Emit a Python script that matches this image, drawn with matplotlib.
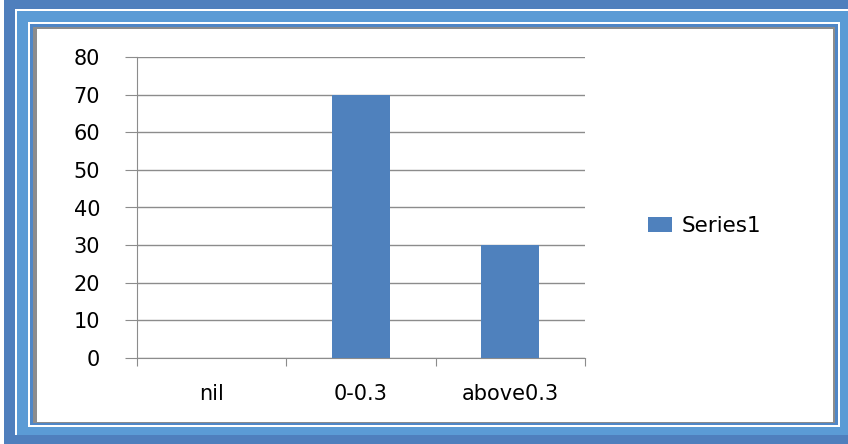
import matplotlib
matplotlib.use("Agg")
import matplotlib.pyplot as plt
from matplotlib.patches import Rectangle

# chart data
categories = ["nil", "0-0.3", "above0.3"]
values = [0, 70, 30]
series_name = "Series1"

W, H = 848, 444
fig = plt.figure(figsize=(W / 100, H / 100), dpi=100)


def frame_rect(x0, y0, x1, y1, color):
    # pixel box (top-down) -> figure rectangle
    fig.patches.append(Rectangle((x0 / W, 1 - y1 / H), (x1 - x0) / W, (y1 - y0) / H,
                                 transform=fig.transFigure, facecolor=color,
                                 edgecolor="none", zorder=-10))


# decorative frame
frame_rect(0, 0, W, H, "white")
frame_rect(4, 0, W, H, "#4f7fbd")
frame_rect(15, 9, W, 435, "white")
frame_rect(17, 11, W, 435, "#5b9bd5")
frame_rect(28, 22, 840, 427, "white")
frame_rect(30, 24, 838, 425, "#4f86c6")
frame_rect(33, 27, 835, 423, "#8c8c8c")
frame_rect(37, 29, 833, 422, "white")

ax = fig.add_axes([137 / W, 1 - 358 / H, 448 / W, 301 / H])
ax.set_facecolor("none")

x = range(len(categories))
ax.bar(x, values, width=0.39, color="#4f81bd", label=series_name, zorder=3)

ax.set_xlim(-0.5, len(categories) - 0.5)
ax.set_ylim(0, 80)
ax.set_yticks(range(0, 81, 10))
ax.yaxis.grid(True, color="#8c8c8c", linewidth=1)
ax.set_axisbelow(True)

ax.set_xticks([i - 0.5 for i in range(len(categories) + 1)], minor=False)
ax.set_xticklabels([])
ax.set_xticks(list(x), minor=True)
ax.set_xticklabels(categories, minor=True, fontsize=15)
ax.tick_params(axis="x", which="minor", length=0, pad=19)
ax.tick_params(axis="x", which="major", length=6, direction="out", color="#8c8c8c")
ax.tick_params(axis="y", length=8.6, color="#8c8c8c", labelsize=15, pad=18)

for s in ["top", "right"]:
    ax.spines[s].set_visible(False)
for s in ["left", "bottom"]:
    ax.spines[s].set_color("#8c8c8c")

fig.legend(loc="center left", bbox_to_anchor=(629 / W, 1 - 226 / H), frameon=False,
           fontsize=15.5, handlelength=1.1, handleheight=0.72, handletextpad=0.45)

fig.savefig("out.png", dpi=100)
